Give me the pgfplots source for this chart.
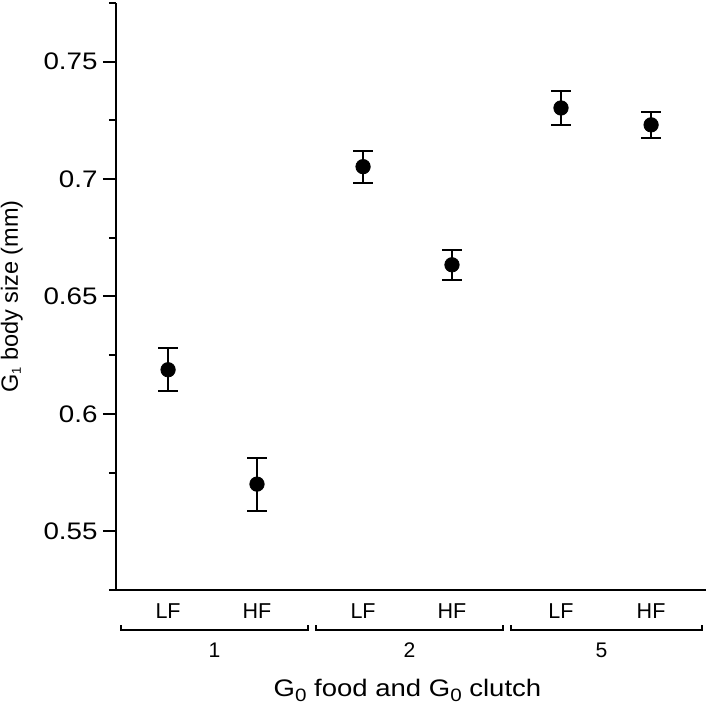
\documentclass[border=0pt]{standalone}
\usepackage{fontspec}
\setmainfont{Liberation Sans}
\usepackage{pgfplots}
\pgfplotsset{compat=1.18}
\begin{document}
\begin{tikzpicture}
\begin{axis}[
  scale only axis,
  width=295bp, height=293.5bp,
  xmin=0, xmax=3.0256,
  ymin=0.525, ymax=0.775,
  axis x line=bottom, axis y line=left,
  axis line style={-, line width=1bp, black},
  clip=false,
  tick align=outside,
  ytick={0.55,0.6,0.65,0.7,0.75},
  minor ytick={0.525,0.575,0.625,0.675,0.725,0.775},
  major tick length=6.5bp, minor tick length=3.5bp,
  every tick/.style={black, line width=1bp},
  yticklabel style={font=\fontsize{12}{14}\selectfont, inner sep=0pt, xshift=-2.5bp, xscale=1.16},
  /pgf/number format/assume math mode=true,
  /pgf/number format/fixed,
  xtick={0.267,0.723,1.267,1.723,2.282,2.744},
  xticklabels={LF,HF,LF,HF,LF,HF},
  xtick style={draw=none},
  xticklabel style={font=\fontsize{10.8}{12}\selectfont, inner sep=0pt, anchor=north, yshift=0bp},
]
\addplot[only marks, mark=*, mark size=3.6bp, black,
  error bars/.cd, y dir=both, y explicit,
  error bar style={line width=1bp, black},
  error mark options={rotate=90, mark size=4.8bp, line width=1bp, black}]
  table[x=x, y=y, y error=e] {
x      y       e
0.267  0.6188  0.0092
0.723  0.5701  0.0113
1.267  0.7053  0.0068
1.723  0.6635  0.0064
2.282  0.7303  0.0073
2.744  0.7231  0.0056
};
% group brackets
\draw[line width=1bp] ([yshift=-17.5bp]axis cs:0.026,0.525) -- ([yshift=-20bp]axis cs:0.026,0.525)
    -- ([yshift=-20bp]axis cs:0.985,0.525) -- ([yshift=-17.5bp]axis cs:0.985,0.525);
\draw[line width=1bp] ([yshift=-17.5bp]axis cs:1.026,0.525) -- ([yshift=-20bp]axis cs:1.026,0.525)
    -- ([yshift=-20bp]axis cs:1.985,0.525) -- ([yshift=-17.5bp]axis cs:1.985,0.525);
\draw[line width=1bp] ([yshift=-17.5bp]axis cs:2.026,0.525) -- ([yshift=-20bp]axis cs:2.026,0.525)
    -- ([yshift=-20bp]axis cs:3.005,0.525) -- ([yshift=-17.5bp]axis cs:3.005,0.525);
\node[anchor=north, inner sep=0pt, font=\fontsize{10.6}{12}\selectfont] at ([yshift=-26.3bp]axis cs:0.505,0.525) {1};
\node[anchor=north, inner sep=0pt, font=\fontsize{10.6}{12}\selectfont] at ([yshift=-26.3bp]axis cs:1.505,0.525) {2};
\node[anchor=north, inner sep=0pt, font=\fontsize{10.6}{12}\selectfont] at ([yshift=-26.3bp]axis cs:2.49,0.525) {5};
\node[anchor=base, inner sep=0pt, xscale=1.15, font=\fontsize{12}{14}\selectfont] at ([yshift=-53bp]rel axis cs:0.494,0)
  {G\raisebox{-2.5bp}{\fontsize{9}{10}\selectfont 0} food and G\raisebox{-2.5bp}{\fontsize{9}{10}\selectfont 0} clutch};
\node[anchor=base, rotate=90, inner sep=0pt, font=\fontsize{11.8}{13}\selectfont] at ([xshift=-49bp]rel axis cs:0,0.5)
  {G\raisebox{-1.5bp}{\fontsize{6.5}{7}\selectfont 1} body size (mm)};
\end{axis}
\pgfresetboundingbox
\path[use as bounding box] (-58bp,-58bp) rectangle (296.5bp,295bp);
\end{tikzpicture}
\end{document}
